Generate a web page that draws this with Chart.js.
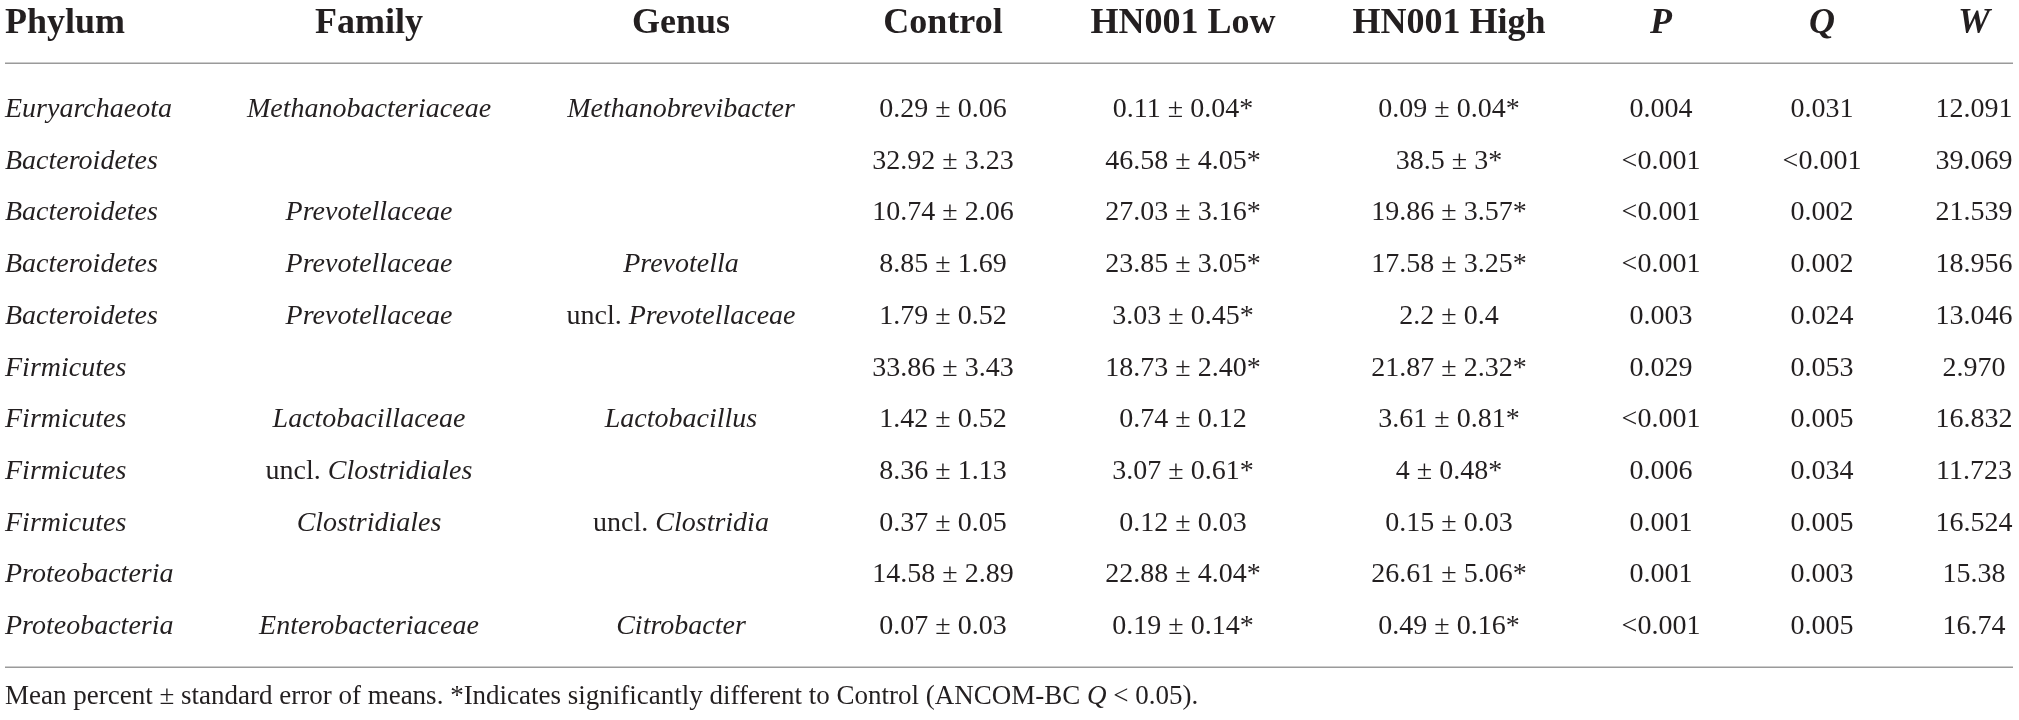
<!DOCTYPE html>
<html>
<head>
<meta charset="utf-8">
<title>Relative abundance table</title>
<script src="https://cdn.jsdelivr.net/npm/chart.js@4"></script>
<style>
	html, body { margin: 0; padding: 0; background: #fff; }
	#wrap { width: 2019px; height: 720px; position: relative; }
</style>
</head>
<body>
<div id="wrap"><canvas id="abundanceTable"></canvas></div>
<script>
// Table content
const headers = [ 'Phylum', 'Family', 'Genus', 'Control', 'HN001 Low', 'HN001 High', 'P', 'Q', 'W' ];

const phylum = [ 'Euryarchaeota', 'Bacteroidetes', 'Bacteroidetes', 'Bacteroidetes', 'Bacteroidetes', 'Firmicutes', 'Firmicutes', 'Firmicutes', 'Firmicutes', 'Proteobacteria', 'Proteobacteria' ];
const family = [ 'Methanobacteriaceae', '', 'Prevotellaceae', 'Prevotellaceae', 'Prevotellaceae', '', 'Lactobacillaceae', 'uncl. Clostridiales', 'Clostridiales', '', 'Enterobacteriaceae' ];
const genus = [ 'Methanobrevibacter', '', '', 'Prevotella', 'uncl. Prevotellaceae', '', 'Lactobacillus', '', 'uncl. Clostridia', '', 'Citrobacter' ];

const control = [ '0.29 ± 0.06', '32.92 ± 3.23', '10.74 ± 2.06', '8.85 ± 1.69', '1.79 ± 0.52', '33.86 ± 3.43', '1.42 ± 0.52', '8.36 ± 1.13', '0.37 ± 0.05', '14.58 ± 2.89', '0.07 ± 0.03' ];
const hn001Low = [ '0.11 ± 0.04*', '46.58 ± 4.05*', '27.03 ± 3.16*', '23.85 ± 3.05*', '3.03 ± 0.45*', '18.73 ± 2.40*', '0.74 ± 0.12', '3.07 ± 0.61*', '0.12 ± 0.03', '22.88 ± 4.04*', '0.19 ± 0.14*' ];
const hn001High = [ '0.09 ± 0.04*', '38.5 ± 3*', '19.86 ± 3.57*', '17.58 ± 3.25*', '2.2 ± 0.4', '21.87 ± 2.32*', '3.61 ± 0.81*', '4 ± 0.48*', '0.15 ± 0.03', '26.61 ± 5.06*', '0.49 ± 0.16*' ];
const pValues = [ '0.004', '<0.001', '<0.001', '<0.001', '0.003', '0.029', '<0.001', '0.006', '0.001', '0.001', '<0.001' ];
const qValues = [ '0.031', '<0.001', '0.002', '0.002', '0.024', '0.053', '0.005', '0.034', '0.005', '0.003', '0.005' ];
const wValues = [ '12.091', '39.069', '21.539', '18.956', '13.046', '2.970', '16.832', '11.723', '16.524', '15.38', '16.74' ];

// footnote pieces: roman, italic, roman
const footnote = [ 'Mean percent ± standard error of means. *Indicates significantly different to Control (ANCOM-BC ', 'Q', ' < 0.05).' ];

const columns = [ phylum, family, genus, control, hn001Low, hn001High, pValues, qValues, wValues ];

// Layout (page pixels)
const colX = [ 5, 369, 681, 943, 1183, 1449, 1661, 1822, 1974 ];
const headerY = 33;
const firstRowY = 117;
const rowStep = 51.7;
const ruleTopY = 63;
const ruleBottomY = 667;
const footnoteY = 704;
const ruleLeft = 5;
const ruleRight = 2013;

const FONT = '"Liberation Serif", "Times New Roman", serif';
const INK = '#231f20';

// taxon name columns are italic, and so are the P, Q, W headers
const italicCols = [ 0, 1, 2 ];
const italicHeaders = [ 6, 7, 8 ];

const datasets = columns.map( ( col, c ) => ( {
	label: headers[ c ],
	data: col.map( ( text, i ) => ( { x: colX[ c ], y: firstRowY + i * rowStep, text } ) ),
	pointRadius: 0,
	col: c,
} ) );

datasets.push( {
	label: 'headers',
	data: headers.map( ( text, c ) => ( { x: colX[ c ], y: headerY, text } ) ),
	pointRadius: 0,
	header: true,
} );

// split "uncl. Name" into a roman prefix and an italic name
function runsFor( text, italic ) {
	if ( ! italic ) {
		return [ { t: text, i: false } ];
	}
	if ( text.indexOf( 'uncl. ' ) === 0 ) {
		return [ { t: 'uncl. ', i: false }, { t: text.slice( 6 ), i: true } ];
	}
	return [ { t: text, i: true } ];
}

function drawRuns( ctx, runs, x, y, align, size, bold ) {
	const fontFor = ( r ) => `${ r.i ? 'italic ' : '' }${ bold ? 'bold ' : '' }${ size }px ${ FONT }`;
	let total = 0;
	runs.forEach( ( r ) => {
		ctx.font = fontFor( r );
		r.w = ctx.measureText( r.t ).width;
		total += r.w;
	} );
	let cx = align === 'left' ? x : x - total / 2;
	runs.forEach( ( r ) => {
		ctx.font = fontFor( r );
		ctx.fillText( r.t, cx, y );
		cx += r.w;
	} );
}

const tablePlugin = {
	id: 'tableText',
	afterDatasetsDraw( chart ) {
		const ctx = chart.ctx;
		const xs = chart.scales.x;
		const ys = chart.scales.y;
		ctx.save();
		ctx.fillStyle = INK;
		ctx.textAlign = 'left';
		ctx.textBaseline = 'alphabetic';

		chart.data.datasets.forEach( ( ds, d ) => {
			const meta = chart.getDatasetMeta( d );
			meta.data.forEach( ( el, i ) => {
				const text = ds.data[ i ].text;
				if ( ! text ) {
					return;
				}
				if ( ds.header ) {
					const align = i === 0 ? 'left' : 'center';
					drawRuns( ctx, [ { t: text, i: italicHeaders.includes( i ) } ], el.x, el.y, align, 36, true );
				} else {
					const align = ds.col === 0 ? 'left' : 'center';
					drawRuns( ctx, runsFor( text, italicCols.includes( ds.col ) ), el.x, el.y, align, 28, false );
				}
			} );
		} );

		// rules
		ctx.strokeStyle = '#9a9a9a';
		ctx.lineWidth = 1.5;
		[ ruleTopY, ruleBottomY ].forEach( ( v ) => {
			const py = Math.round( ys.getPixelForValue( v ) ) + 0.25;
			ctx.beginPath();
			ctx.moveTo( xs.getPixelForValue( ruleLeft ), py );
			ctx.lineTo( xs.getPixelForValue( ruleRight ), py );
			ctx.stroke();
		} );

		// footnote
		drawRuns(
			ctx,
			footnote.map( ( t, k ) => ( { t, i: k === 1 } ) ),
			xs.getPixelForValue( ruleLeft ),
			ys.getPixelForValue( footnoteY ),
			'left',
			27,
			false
		);
		ctx.restore();
	},
};

new Chart( document.getElementById( 'abundanceTable' ), {
	type: 'scatter',
	data: { datasets },
	options: {
		responsive: true,
		maintainAspectRatio: false,
		animation: false,
		events: [],
		layout: { padding: 0 },
		plugins: {
			legend: { display: false },
			tooltip: { enabled: false },
		},
		scales: {
			x: { type: 'linear', min: 0, max: 2019, display: false },
			y: { type: 'linear', min: 0, max: 720, reverse: true, display: false },
		},
	},
	plugins: [ tablePlugin ],
} );
</script>
</body>
</html>
